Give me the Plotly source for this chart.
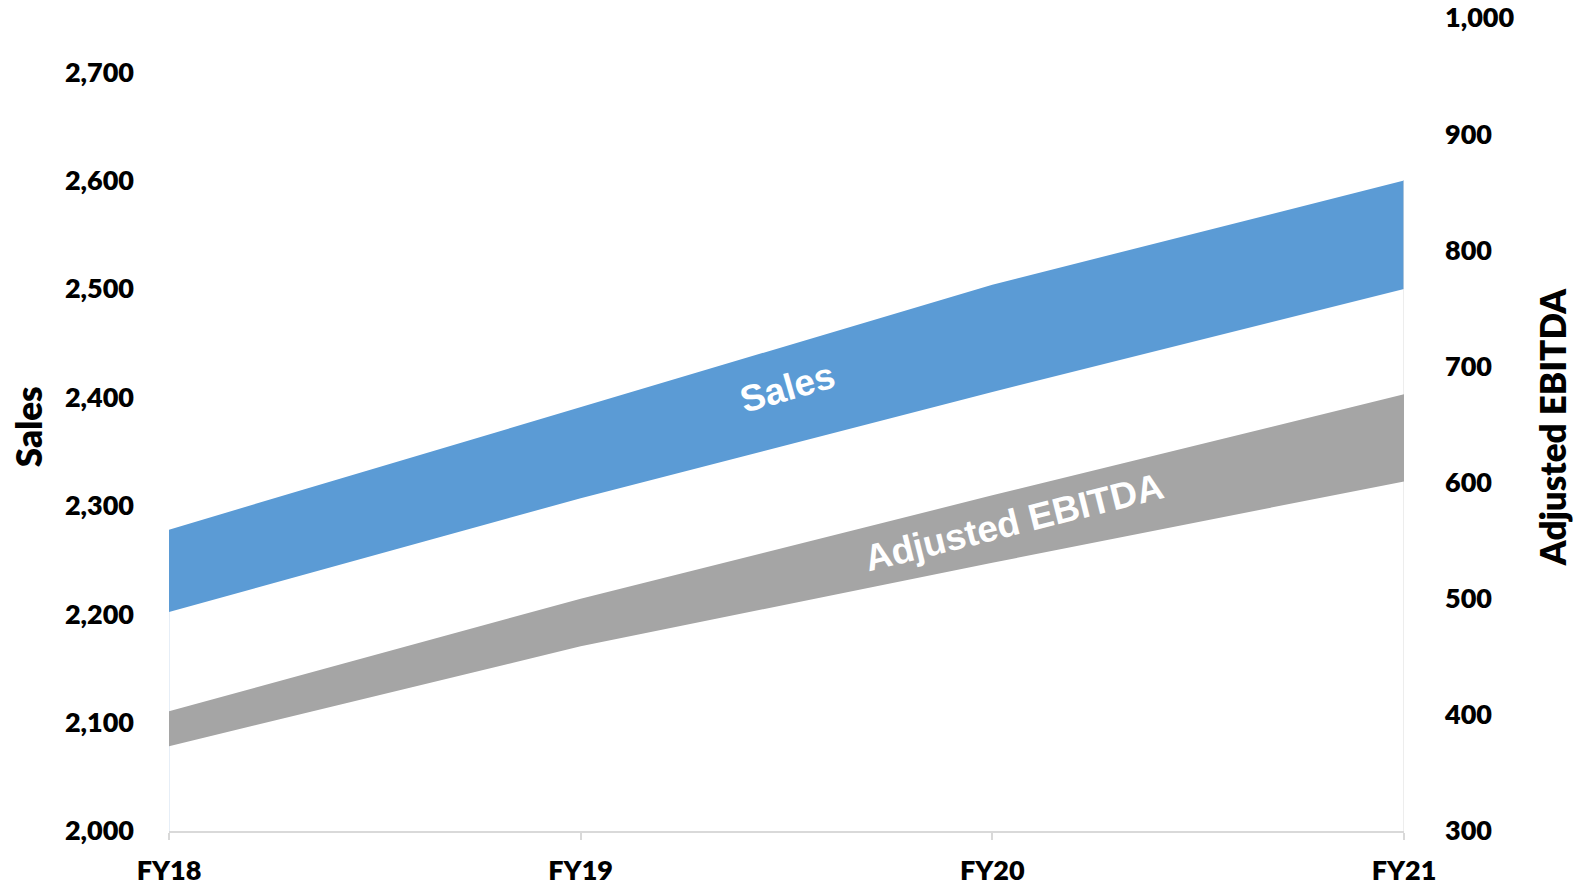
import plotly.graph_objects as go

categories = ["FY18", "FY19", "FY20", "FY21"]
sales_low = [2202, 2307, 2405, 2500]
sales_high = [2278, 2391, 2504, 2600]
ebitda_low = [373, 459, 531, 601]
ebitda_high = [403, 500, 589, 676]

left_ticks = [2000, 2100, 2200, 2300, 2400, 2500, 2600, 2700]
right_ticks = [300, 400, 500, 600, 700, 800, 900, 1000]

BLUE = "#5B9BD5"
GRAY = "#A5A5A5"
TICKFONT = dict(family="Lato", size=27, color="#000000", weight=800)

fig = go.Figure()

# Sales band
fig.add_trace(go.Scatter(x=categories, y=sales_low, mode="lines",
                         line=dict(width=0, color=BLUE), showlegend=False,
                         hoverinfo="skip", yaxis="y"))
fig.add_trace(go.Scatter(x=categories, y=sales_high, mode="lines",
                         line=dict(width=0, color=BLUE), fill="tonexty",
                         fillcolor=BLUE, name="Sales", showlegend=False, yaxis="y"))

# faint edge lines
fig.add_trace(go.Scatter(x=[categories[0], categories[0]], y=[left_ticks[0], sales_low[0]],
                         mode="lines", line=dict(color="#d5e3f2", width=1.2),
                         hoverinfo="skip", showlegend=False, yaxis="y"))
fig.add_trace(go.Scatter(x=[categories[-1], categories[-1]], y=[left_ticks[0], sales_high[-1]],
                         mode="lines", line=dict(color="#e2e2e2", width=1.2),
                         hoverinfo="skip", showlegend=False, yaxis="y"))

# EBITDA band
fig.add_trace(go.Scatter(x=categories, y=ebitda_low, mode="lines",
                         line=dict(width=0, color=GRAY), showlegend=False,
                         hoverinfo="skip", yaxis="y2"))
fig.add_trace(go.Scatter(x=categories, y=ebitda_high, mode="lines",
                         line=dict(width=0, color=GRAY), fill="tonexty",
                         fillcolor=GRAY, name="Adjusted EBITDA", showlegend=False, yaxis="y2"))

fig.update_layout(
    width=1585, height=885,
    margin=dict(l=169, r=181, t=18, b=54),
    paper_bgcolor="white", plot_bgcolor="white",
    showlegend=False,
    xaxis=dict(
        type="category", categoryorder="array", categoryarray=categories,
        range=[0, 3], automargin=False,
        showgrid=False, zeroline=False,
        showline=True, linecolor="#d9d9d9", linewidth=1.5,
        ticks="outside", ticklen=7, tickcolor="#d9d9d9", tickwidth=1.5,
        tickfont=TICKFONT, ticklabelstandoff=8,
    ),
    yaxis=dict(
        range=[2000, 2750], tickvals=left_ticks, tickformat=",", automargin=False,
        showgrid=False, zeroline=False, showline=False,
        tickfont=TICKFONT, ticklabelstandoff=34, ticklabeloverflow="allow",
    ),
    yaxis2=dict(
        range=[300, 1000], tickvals=right_ticks, tickformat=",", automargin=False,
        overlaying="y", side="right",
        showgrid=False, zeroline=False, showline=False,
        tickfont=TICKFONT, ticklabelstandoff=40, ticklabeloverflow="allow",
    ),
    annotations=[
        dict(text="Sales", xref="paper", yref="paper", x=-0.114, y=0.497,
             textangle=-90, showarrow=False, xanchor="center", yanchor="middle",
             font=dict(family="Lato", size=35, color="#000000", weight=800)),
        dict(text="Adjusted EBITDA", xref="paper", yref="paper", x=1.12, y=0.497,
             textangle=-90, showarrow=False, xanchor="center", yanchor="middle",
             font=dict(family="Lato", size=35, color="#000000", weight=800)),
        dict(text="Sales", xref="paper", yref="paper", x=0.501, y=0.546,
             textangle=-16, showarrow=False, xanchor="center", yanchor="middle",
             font=dict(family="Liberation Sans", size=37, color="white", weight="bold")),
        dict(text="Adjusted EBITDA", xref="paper", yref="paper", x=0.684, y=0.379,
             textangle=-14, showarrow=False, xanchor="center", yanchor="middle",
             font=dict(family="Liberation Sans", size=37, color="white", weight="bold")),
    ],
)

fig.write_html("out.html", config={"displayModeBar": False},
               post_script="document.body.style.margin='0';document.body.style.overflow='hidden';")
